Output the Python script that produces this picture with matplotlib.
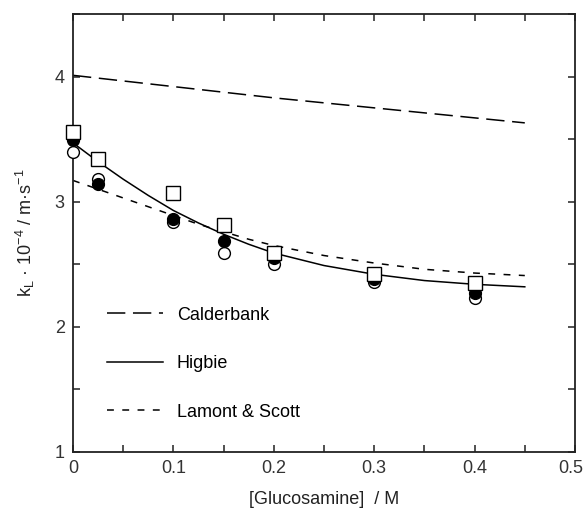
import numpy as np
import matplotlib
matplotlib.use("Agg")
import matplotlib.pyplot as plt
import matplotlib.transforms as mtransforms
from matplotlib.ticker import MultipleLocator

plt.rcParams['font.family'] = ['Liberation Sans', 'DejaVu Sans']

# measured points
conc = [0.0, 0.025, 0.1, 0.15, 0.2, 0.3, 0.4]
kl_square = [3.56, 3.34, 3.07, 2.81, 2.59, 2.42, 2.35]
kl_filled = [3.49, 3.14, 2.86, 2.69, 2.55, 2.38, 2.27]
kl_open = [3.40, 3.18, 2.84, 2.59, 2.50, 2.36, 2.23]

# model curves
x_cald = [0.0, 0.1, 0.2, 0.3, 0.4, 0.45]
y_cald = [4.01, 3.92, 3.83, 3.75, 3.67, 3.63]

x_model = [0.0, 0.025, 0.05, 0.075, 0.1, 0.125, 0.15, 0.175, 0.2, 0.25, 0.3, 0.35, 0.4, 0.45]
y_higbie = [3.47, 3.32, 3.18, 3.05, 2.93, 2.83, 2.74, 2.66, 2.59, 2.49, 2.42, 2.37, 2.34, 2.32]
y_lamont = [3.17, 3.10, 3.03, 2.96, 2.89, 2.82, 2.76, 2.70, 2.65, 2.57, 2.51, 2.46, 2.43, 2.41]

x_ticks = [0, 0.1, 0.2, 0.3, 0.4, 0.5]
x_ticklabels = ['0', '0.1', '0.2', '0.3', '0.4', '0.5']
y_ticks = [1, 2, 3, 4]

fig = plt.figure(figsize=(5.85, 5.09), dpi=100)
ax = fig.add_axes([73 / 585, 1 - 452 / 509, 502 / 585, 438 / 509])

ax.plot(x_cald, y_cald, color='black', lw=1.1, dashes=(12, 5), label='Calderbank')
ax.plot(x_model, y_higbie, color='black', lw=1.1, label='Higbie')
ax.plot(x_model, y_lamont, color='black', lw=1.1, dashes=(4.5, 5.5), label='Lamont & Scott')

ax.plot(conc, kl_open, 'o', ms=8.5, mfc='white', mec='black', mew=1.0, clip_on=False, zorder=3)
ax.plot(conc, kl_filled, 'o', ms=8.5, mfc='black', mec='black', mew=1.0, clip_on=False, zorder=4)
ax.plot(conc, kl_square, 's', ms=9.5, mfc='white', mec='black', mew=1.0, clip_on=False, zorder=5)

ax.set_xlim(0, 0.5)
ax.set_ylim(1, 4.5)
ax.xaxis.set_minor_locator(MultipleLocator(0.05))
ax.yaxis.set_minor_locator(MultipleLocator(0.5))
ax.set_xticks(x_ticks)
ax.set_xticklabels(x_ticklabels)
ax.set_yticks(y_ticks)

for s in ax.spines.values():
    s.set_linewidth(1.3)
    s.set_color('#222222')
ax.tick_params(which='both', direction='in', top=True, right=True, length=5,
               width=1.1, labelsize=13, pad=6, colors='#222222', labelcolor='#333333')

# the last label sits right at the figure edge, nudge it in a little
last = ax.get_xticklabels()[-1]
last.set_transform(last.get_transform() + mtransforms.ScaledTranslation(-4 / 100, 0, fig.dpi_scale_trans))

ax.set_xlabel('[Glucosamine]  / M', fontsize=13, color='#222222', labelpad=10)
ax.set_ylabel(r'k$_\mathregular{L}$ · 10$^\mathregular{-4}$ / m·s$^\mathregular{-1}$',
              fontsize=13, color='#222222', labelpad=13)

ax.legend(loc='upper left', bbox_to_anchor=(0.068, 0.332), frameon=False, fontsize=13,
          handlelength=3.1, handletextpad=0.75, labelspacing=1.75, borderpad=0, borderaxespad=0)

fig.savefig('out.png', dpi=100, facecolor='white')
